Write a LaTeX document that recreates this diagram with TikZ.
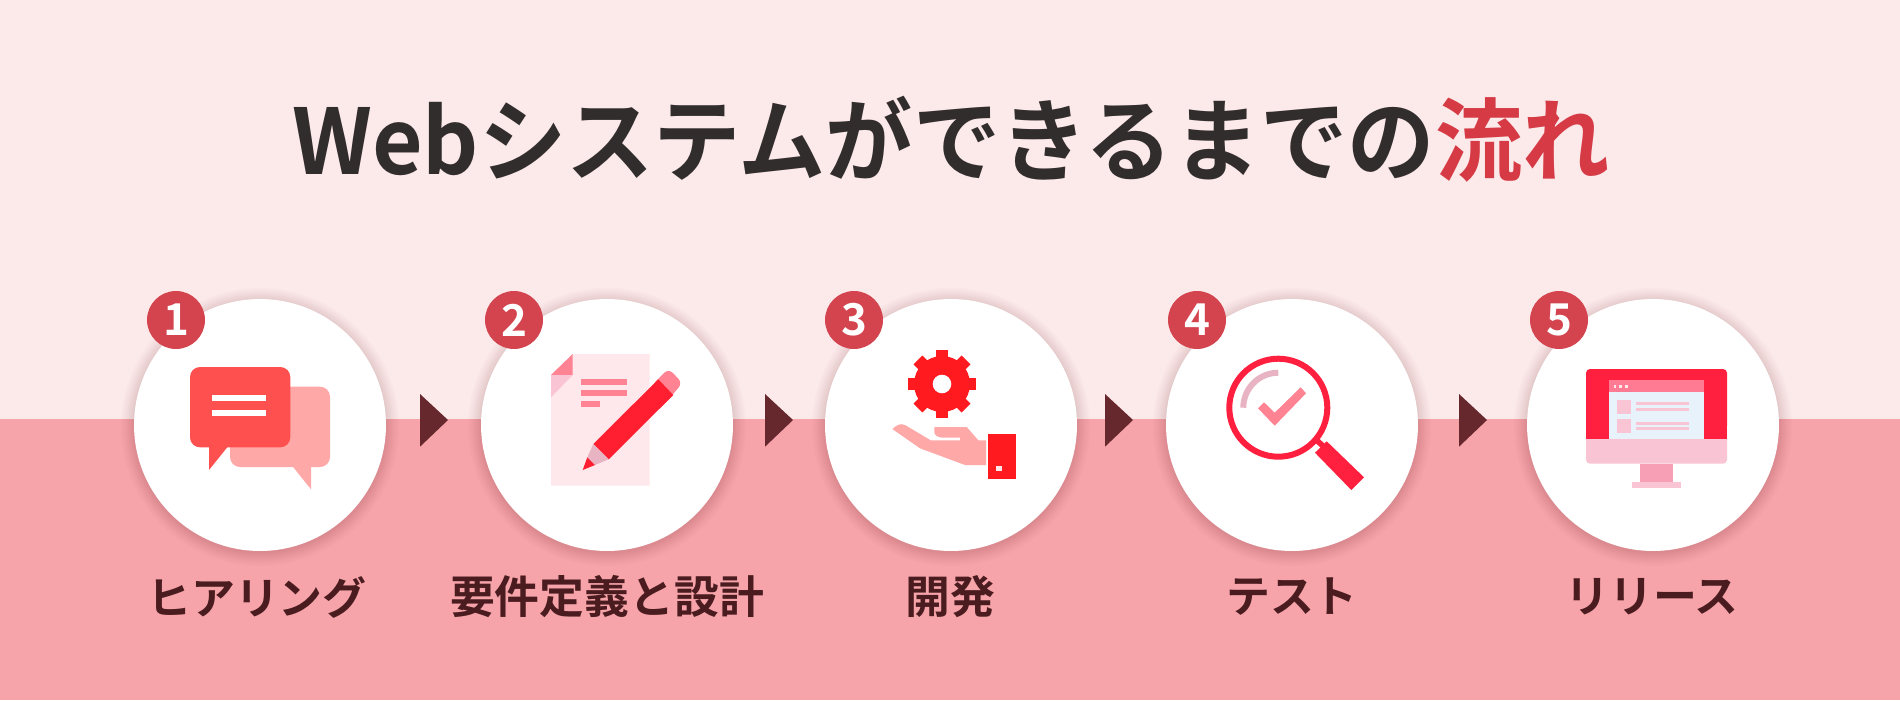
\documentclass[tikz,border=0pt]{standalone}
\usepackage{xcolor}
\usepackage{fontspec}
\setmainfont{Noto Sans CJK JP}[BoldFont=* Bold]
\usepackage{tikz}
\definecolor{bgtop}{HTML}{FCE9EA}
\definecolor{bgbottom}{HTML}{F6A4AA}
\definecolor{badgered}{HTML}{D4444F}
\definecolor{arrowdark}{HTML}{66272D}
\definecolor{titledark}{HTML}{322D2D}
\definecolor{titlered}{HTML}{D53A45}
\definecolor{labeldark}{HTML}{4A1C1F}
\definecolor{bubblered}{HTML}{FF5050}
\definecolor{softpink}{HTML}{FFA8A8}
\definecolor{pagepink}{HTML}{FEE8EB}
\definecolor{midpink}{HTML}{FF8393}
\definecolor{palepink}{HTML}{F9C4D4}
\definecolor{woodpink}{HTML}{E8B4C4}
\definecolor{iconred}{HTML}{FF1F30}
\definecolor{gearred}{HTML}{FF1A20}
\definecolor{screenred}{HTML}{FF1F3F}
\definecolor{standpink}{HTML}{F7A0B5}
\definecolor{barpink}{HTML}{FF7B93}
\definecolor{windowblue}{HTML}{E8F2FB}
\tikzset{
  stepcircle/.style={circle,fill=white,inner sep=0pt,minimum size=5.04cm},
  badge/.style={circle,fill=badgered,text=white,inner sep=0pt,minimum size=1.16cm,
    font=\fontsize{25}{25}\selectfont\bfseries},
  steplabel/.style={text=labeldark,inner sep=0pt,font=\fontsize{25}{30}\selectfont\bfseries},
  kanjilabel/.style={steplabel,font=\fontsize{25.5}{30}\selectfont\bfseries},
}
\begin{document}
\begin{tikzpicture}[x=.02cm,y=-.02cm]
\useasboundingbox (0,0) rectangle (1900,700);
  \fill[bgtop] (0,0) rectangle (1900,419);
  \fill[bgbottom] (0,419) rectangle (1900,700);
  \node[anchor=base,inner sep=0pt,text=titledark,xscale=.965,transform shape,
    font=\fontsize{51.5}{60}\selectfont\bfseries]
    (title) at (951,174) {Webシステムができるまでの{\color{titlered}流れ}};
  \foreach \x in {260,607,951,1292,1653}
    \foreach \r in {126.5,127.5,129,130.5,132,133.5,135,137,139}
      \fill[arrowdark,opacity=.02] (\x,427) circle (\r);
  \node[stepcircle] (hearing) at (260,425) {};
  \node[stepcircle] (design) at (607,425) {};
  \node[stepcircle] (develop) at (951,425) {};
  \node[stepcircle] (testing) at (1292,425) {};
  \node[stepcircle] (release) at (1653,425) {};
  \node[badge] (badgeone) at (176,320) {1};
  \node[badge] (badgetwo) at (514,320) {2};
  \node[badge] (badgethree) at (854,320) {3};
  \node[badge] (badgefour) at (1197,320) {4};
  \node[badge] (badgefive) at (1559,320) {5};
  \node[steplabel] (labelone) at (257,597) {ヒアリング};
  \node[kanjilabel] (labeltwo) at (607,597) {要件定義と設計};
  \node[kanjilabel] (labelthree) at (950,597) {開発};
  \node[steplabel] (labelfour) at (1292,597) {テスト};
  \node[steplabel] (labelfive) at (1652,597) {リリース};
  \foreach \x in {420,765,1105,1459}
    \fill[arrowdark] (\x,394) -- (\x+28,420) -- (\x,446.7) -- cycle;

  \fill[softpink,rounded corners=10*.02cm] (230,386.7) rectangle (330,467);
  \fill[softpink] (292.3,466) -- (311,489.3) -- (311,466) -- cycle;
  \fill[bubblered,rounded corners=10*.02cm] (190,367) rectangle (290.3,447.3);
  \fill[bubblered] (209,446) -- (209,470) -- (228.3,446) -- cycle;
  \fill[white] (212,395) rectangle (266,401.3);
  \fill[white] (212,410) rectangle (266,416.3);

  \fill[pagepink] (572.7,354) -- (649.7,354) -- (649.7,485.7) -- (551,485.7) -- (551,375) -- cycle;
  \fill[midpink] (572.7,354) -- (572.7,375) -- (551,375) -- cycle;
  \fill[palepink] (551,375) -- (572.7,375) -- (551,397.3) -- cycle;
  \fill[midpink] (580.7,379.3) rectangle (627,385);
  \fill[midpink] (580.7,390.3) rectangle (627,396);
  \fill[midpink] (580.7,401.3) rectangle (600,407);
  \fill[midpink,rounded corners=6*.02cm] (652,385) -- (668.5,368.5) -- (682.5,383) -- (668,400) -- cycle;
  \fill[iconred] (593.3,444) -- (608.7,459.3) -- (673.3,395) -- (658.3,379.3) -- cycle;
  \fill[woodpink] (593.3,444) -- (608.7,459.3) -- (595,465) -- (587.3,457.3) -- cycle;
  \fill[iconred] (587.3,457.3) -- (595,465) -- (582.7,470) -- cycle;

  \fill[gearred] (942,384) circle (28);
  \foreach \a in {0,45,...,315}
    \fill[gearred,shift={(942,384)},rotate=\a] (-6.2,20) rectangle (6.2,34);
  \fill[white] (942,384) circle (9.3);
  \fill[softpink] (892.3,429) .. controls (897,425) and (900,423) .. (905,425)
    -- (930.7,440.3) -- (960,440.3) -- (960,437.7) -- (941.7,437.7)
    .. controls (937,437) and (934.3,435) .. (934.3,431.7) -- (934.3,427) -- (966.7,427)
    -- (978.3,440.3) -- (986,440.3) -- (986,465) -- (965,465) -- (920,448.3) -- cycle;
  \fill[gearred] (988.3,433.7) rectangle (1016,478.7);
  \fill[pagepink] (996.3,466) rectangle (1001.7,471.3);

  \draw[screenred,line width=6*.02cm] (1278.3,407.7) circle (49);
  \draw[woodpink,line width=6*.02cm] (1243.3,407.7) arc (180:270:35);
  \fill[midpink] (1258,408.3) -- (1264,402.3) -- (1274.7,412.7) -- (1300.7,387.3) -- (1306,393.3) -- (1274.7,425.7) -- cycle;
  \fill[screenred] (1314.5,442) -- (1318.5,438) -- (1326,445) -- (1322,449) -- cycle;
  \fill[screenred] (1326.7,441.3) -- (1364,477.3) -- (1351.3,490) -- (1315,452.7) -- cycle;

  \fill[palepink,rounded corners=4*.02cm] (1586,425) rectangle (1727,463.7);
  \fill[screenred,rounded corners=4*.02cm] (1586,369) rectangle (1727,430);
  \fill[screenred] (1586,420) rectangle (1727,439.3);
  \fill[standpink] (1640,463.7) rectangle (1673,482);
  \fill[palepink] (1632.3,482) rectangle (1681,488);
  \fill[windowblue] (1609.3,392) rectangle (1703.7,439.3);
  \fill[barpink] (1609.3,380) rectangle (1703.7,392);
  \foreach \x in {1615,1620.7,1626.3}
    \fill[pagepink] (\x-1.4,384.9) rectangle (\x+1.4,387.7);
  \fill[palepink] (1617,400) rectangle (1631,414);
  \fill[palepink] (1617,419.3) rectangle (1631,433.3);
  \foreach \y in {402.3,407.7,421.7,427}
    \fill[palepink] (1635.7,\y) rectangle (1689,\y+2.8);
\end{tikzpicture}
\end{document}
